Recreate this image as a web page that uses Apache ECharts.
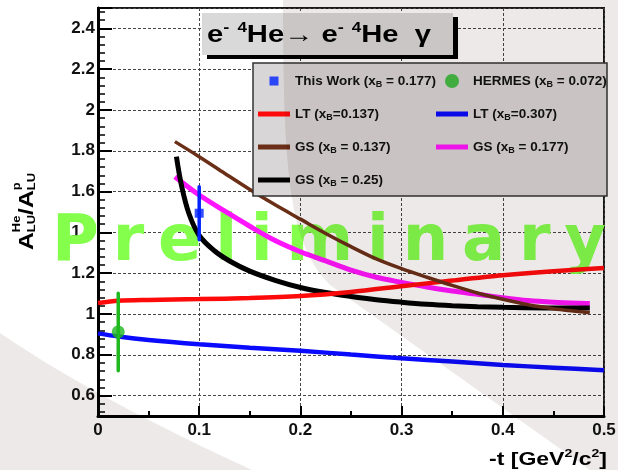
<!DOCTYPE html>
<html>
<head>
<meta charset="utf-8">
<script src="https://cdn.jsdelivr.net/npm/echarts@6/dist/echarts.min.js"></script>
<style>
  html, body { margin: 0; padding: 0; background: #ffffff; }
  #chart { width: 618px; height: 470px; }
</style>
</head>
<body>
<div id="chart"></div>
<script>
// ---- data -------------------------------------------------------------
// LT model curves, -t in GeV^2/c^2
const ltT = [0, 0.02, 0.05, 0.1, 0.15, 0.2, 0.25, 0.3, 0.35, 0.4, 0.45, 0.5];
const ltRatioXb137 = [1.054, 1.065, 1.069, 1.073, 1.078, 1.088, 1.108, 1.136, 1.164, 1.19, 1.21, 1.225];
const ltRatioXb307 = [0.905, 0.89, 0.873, 0.852, 0.835, 0.82, 0.801, 0.783, 0.767, 0.75, 0.737, 0.724];

// GS model curves
const gsT = [0.076, 0.1, 0.125, 0.15, 0.175, 0.2, 0.225, 0.25, 0.275, 0.3, 0.325, 0.35, 0.375, 0.4, 0.425, 0.45, 0.475, 0.486];
const gsRatioXb137 = [1.845, 1.771, 1.69, 1.61, 1.535, 1.465, 1.395, 1.33, 1.27, 1.222, 1.18, 1.14, 1.103, 1.072, 1.045, 1.026, 1.012, 1.006];
const gsRatioXb177 = [1.673, 1.583, 1.505, 1.43, 1.36, 1.305, 1.26, 1.215, 1.18, 1.155, 1.132, 1.113, 1.097, 1.08, 1.066, 1.058, 1.053, 1.052];
const gsT25 = [0.0775, 0.0825, 0.09, 0.1, 0.115, 0.13, 0.15, 0.175, 0.2, 0.225, 0.25, 0.275, 0.3, 0.325, 0.35, 0.375, 0.4, 0.45, 0.486];
const gsRatioXb25 = [1.771, 1.63, 1.49, 1.385, 1.31, 1.26, 1.21, 1.165, 1.13, 1.105, 1.086, 1.07, 1.058, 1.048, 1.041, 1.036, 1.033, 1.03, 1.03];

// measurements
const thisWorkT = [0.1];
const thisWorkRatio = [1.494];
const thisWorkErr = [0.13];
const hermesT = [0.02];
const hermesRatio = [0.912];
const hermesErr = [0.19];

// series names (x_B is typeset with a subscript B)
const nameThisWork = 'This Work (x_B = 0.177)';
const nameHermes = 'HERMES (x_B = 0.072)';
const nameLt137 = 'LT (x_B=0.137)';
const nameLt307 = 'LT (x_B=0.307)';
const nameGs137 = 'GS (x_B = 0.137)';
const nameGs177 = 'GS (x_B = 0.177)';
const nameGs25 = 'GS (x_B = 0.25)';

const watermark = 'Preliminary';

// ---- text helpers -----------------------------------------------------
const FONT = '"Liberation Sans", Arial, Helvetica, sans-serif';
const WM_FONT = '"DejaVu Sans", sans-serif';
const ctx2d = document.createElement('canvas').getContext('2d');
function fontStr(size, family) { return 'bold ' + size + 'px ' + (family || FONT); }
function measure(str, size, family) {
  ctx2d.font = fontStr(size, family);
  ctx2d.textBaseline = 'alphabetic';
  return ctx2d.measureText(str).width;
}
// distance from the 'middle' line of a text box down to its alphabetic baseline
function midShift(size, family) {
  ctx2d.font = fontStr(size, family);
  ctx2d.textBaseline = 'alphabetic';
  const a = ctx2d.measureText('H').actualBoundingBoxAscent;
  ctx2d.textBaseline = 'middle';
  const b = ctx2d.measureText('H').actualBoundingBoxAscent;
  return a - b;
}
function textEl(str, x, baseline, size, family, color, z) {
  return {
    type: 'text', x: x, y: baseline - midShift(size, family), z: z, silent: true,
    style: {
      text: str, font: fontStr(size, family), fill: color,
      align: 'left', verticalAlign: 'middle', textAlign: 'left', textVerticalAlign: 'middle'
    }
  };
}
// lays out a run of text pieces on a common baseline; stacked pieces share one advance
function textRun(parts, z) {
  let x = 0;
  const children = [];
  parts.forEach(function (p) {
    const pieces = p.stack || [p];
    let adv = 0;
    pieces.forEach(function (q) {
      children.push(textEl(q.t, x, q.dy || 0, q.s, FONT, '#000', z));
      adv = Math.max(adv, measure(q.t, q.s));
    });
    x += adv;
  });
  return { children: children, width: x };
}
function fittedRun(parts, left, baseline, targetWidth, z, rotation) {
  const run = textRun(parts, z);
  return {
    type: 'group', x: left, y: baseline, rotation: rotation || 0,
    scaleX: targetWidth / run.width, z: z, children: run.children
  };
}

// ---- decorations ------------------------------------------------------
function cubicPts(p0, p1, p2, p3, n) {
  const pts = [];
  for (let i = 0; i <= n; i++) {
    const t = i / n, u = 1 - t;
    pts.push([
      u * u * u * p0[0] + 3 * u * u * t * p1[0] + 3 * u * t * t * p2[0] + t * t * t * p3[0],
      u * u * u * p0[1] + 3 * u * u * t * p1[1] + 3 * u * t * t * p2[1] + t * t * t * p3[1]
    ]);
  }
  return pts;
}
function quadPts(p0, p1, p2, n) {
  const pts = [];
  for (let i = 0; i <= n; i++) {
    const t = i / n, u = 1 - t;
    pts.push([u * u * p0[0] + 2 * u * t * p1[0] + t * t * p2[0], u * u * p0[1] + 2 * u * t * p1[1] + t * t * p2[1]]);
  }
  return pts;
}
const shadeRight = cubicPts([283, 0], [283, 180], [290, 245], [330, 285], 24).concat([[590, 470], [618, 470], [618, 0]]);
const shadeLeft = quadPts([0, 333], [95, 398], [252, 470], 24).concat([[0, 470]]);

// watermark letters spread across the frame
function watermarkEls() {
  const size = 64, left = 52, right = 606, base = 260;
  const letters = watermark.split('');
  const advs = letters.map(function (c) { return measure(c, size, WM_FONT); });
  const sum = advs.reduce(function (a, b) { return a + b; }, 0);
  const gap = (right - left - sum) / (letters.length - 1);
  const els = [];
  let x = left;
  letters.forEach(function (c, i) {
    els.push(textEl(c, x, base, size, WM_FONT, '#84ff4c', 1));
    x += advs[i] + gap;
  });
  return els;
}

const titleParts = [
  { t: 'e', s: 24 }, { t: '-', s: 15, dy: -10 }, { t: ' ', s: 24 }, { t: '4', s: 14, dy: -10 },
  { t: 'He\u2192 e', s: 24 }, { t: '-', s: 15, dy: -10 }, { t: ' ', s: 24 }, { t: '4', s: 14, dy: -10 },
  { t: 'He  \u03b3', s: 24 }
];
const xNameParts = [
  { t: '-t [GeV', s: 18 }, { t: '2', s: 11, dy: -8 }, { t: '/c', s: 18 }, { t: '2', s: 11, dy: -8 }, { t: ']', s: 18 }
];
const yNameParts = [
  { t: 'A', s: 21 },
  { stack: [{ t: 'He', s: 11, dy: -13 }, { t: 'LU', s: 11, dy: 2 }] },
  { t: '/A', s: 21 },
  { stack: [{ t: 'p', s: 11, dy: -13 }, { t: 'LU', s: 11, dy: 2 }] }
];

// ---- legend -----------------------------------------------------------
function legendLabel(name) {
  const i = name.indexOf('x_B');
  return '{t|' + name.slice(0, i) + 'x}{s|B}{t|' + name.slice(i + 3) + '}';
}
const legendTextStyle = {
  fontFamily: FONT, fontWeight: 'bold', fontSize: 13.5, color: '#111',
  rich: {
    t: { fontFamily: FONT, fontWeight: 'bold', fontSize: 13.5, color: '#111' },
    s: { fontFamily: FONT, fontWeight: 'bold', fontSize: 9, color: '#111', padding: [7, 0, 0, 0] }
  }
};
// legend glyphs: a small filled square, and a plain thick bar for the model curves
const squareIcon = 'path://M0,0L0,0M2.5,2.5L11.5,2.5L11.5,11.5L2.5,11.5ZM14,14L14,14';
const barIcon = 'path://M0,0L0,0M0,4.5L32,4.5L32,9.5L0,9.5ZM32,14L32,14';
function legendColumn(left, data) {
  return {
    left: left, top: 69, orient: 'vertical', padding: 5,
    itemWidth: 32, itemHeight: 14, itemGap: 18,
    selectedMode: false, z: 6,
    formatter: legendLabel, textStyle: legendTextStyle,
    itemStyle: { borderWidth: 0 },
    data: data
  };
}

function errorBar(color) {
  return function (params, api) {
    const p1 = api.coord([api.value(0), api.value(1)]);
    const p2 = api.coord([api.value(0), api.value(2)]);
    return {
      type: 'line',
      shape: { x1: p1[0], y1: p1[1], x2: p2[0], y2: p2[1] },
      style: { stroke: color, lineWidth: 3.5, lineCap: 'round' }
    };
  };
}
function pairs(xs, ys) { return xs.map(function (x, i) { return [x, ys[i]]; }); }
function bars(xs, ys, es) { return xs.map(function (x, i) { return [x, ys[i] - es[i], ys[i] + es[i]]; }); }

const axisFont = { fontFamily: FONT, fontWeight: 'bold', fontSize: 17, color: '#111' };
const gridLine = { show: true, lineStyle: { color: '#454545', width: 1, type: [3, 2] } };

const option = {
  animation: false,
  backgroundColor: '#ffffff',
  grid: {
    left: 98, right: 14, top: 8, bottom: 54,
    show: true, borderColor: '#1a1a1a', borderWidth: 2, backgroundColor: 'transparent',
    containLabel: false, outerBoundsMode: 'none'
  },
  xAxis: {
    type: 'value', min: 0, max: 0.5, interval: 0.1,
    axisLine: { show: true, onZero: false, lineStyle: { color: '#000', width: 3 } },
    axisTick: { show: true, inside: true, length: 10, lineStyle: { color: '#000', width: 2 } },
    minorTick: { show: true, splitNumber: 2, length: 5, lineStyle: { color: '#000', width: 2 } },
    axisLabel: Object.assign({ margin: 6 }, axisFont),
    splitLine: gridLine,
    minorSplitLine: { show: false }
  },
  yAxis: {
    type: 'value', min: 0.5, max: 2.5, splitNumber: 10,
    axisLine: { show: true, onZero: false, lineStyle: { color: '#000', width: 3 } },
    axisTick: { show: true, inside: true, length: 14, lineStyle: { color: '#000', width: 2 } },
    minorTick: { show: true, splitNumber: 5, length: 7, lineStyle: { color: '#000', width: 1.5 } },
    axisLabel: Object.assign({ margin: 3, showMinLabel: false, showMaxLabel: false }, axisFont),
    splitLine: gridLine,
    minorSplitLine: { show: false }
  },
  legend: [
    legendColumn(253, [
      { name: nameThisWork, icon: squareIcon },
      { name: nameLt137, icon: barIcon },
      { name: nameGs137, icon: barIcon },
      { name: nameGs25, icon: barIcon }
    ]),
    legendColumn(431, [
      { name: nameHermes, icon: 'circle' },
      { name: nameLt307, icon: barIcon },
      { name: nameGs177, icon: barIcon }
    ])
  ],
  graphic: [].concat(
    watermarkEls(),
    [
      // title pave with its drop shadow
      { type: 'rect', z: 5, silent: true, shape: { x: 202, y: 13, width: 251, height: 42 }, style: { fill: '#d9d9d9' } },
      { type: 'rect', z: 5, silent: true, shape: { x: 207, y: 55, width: 251, height: 4 }, style: { fill: '#000' } },
      { type: 'rect', z: 5, silent: true, shape: { x: 453, y: 17, width: 5, height: 42 }, style: { fill: '#000' } },
      fittedRun(titleParts, 207, 42, 224, 7),
      // legend pave
      { type: 'rect', z: 5, silent: true, shape: { x: 253, y: 63, width: 354, height: 133 }, style: { fill: '#d8d6d6', stroke: '#333', lineWidth: 1.5 } },
      // axis titles
      fittedRun(xNameParts, 489, 465, 118, 7),
      fittedRun(yNameParts, 33, 250, 77, 7, Math.PI / 2),
      // slide backdrop tint
      { type: 'polygon', z: 20, silent: true, shape: { points: shadeRight }, style: { fill: '#eee9e9', blend: 'multiply' } },
      { type: 'polygon', z: 20, silent: true, shape: { points: shadeLeft }, style: { fill: '#eee9e9', blend: 'multiply' } }
    ]
  ),
  series: [
    { type: 'line', name: nameLt307, data: pairs(ltT, ltRatioXb307), symbol: 'none', smooth: 0.3, z: 3,
      lineStyle: { color: '#0a0aff', width: 4.5 }, itemStyle: { color: '#0a0aff' } },
    { type: 'line', name: nameGs177, data: pairs(gsT, gsRatioXb177), symbol: 'none', smooth: 0.3, z: 3,
      lineStyle: { color: '#ff14ff', width: 5 }, itemStyle: { color: '#ff14ff' } },
    { type: 'line', name: nameGs25, data: pairs(gsT25, gsRatioXb25), symbol: 'none', smooth: 0.35, z: 3,
      lineStyle: { color: '#000000', width: 5 }, itemStyle: { color: '#000000' } },
    { type: 'line', name: nameLt137, data: pairs(ltT, ltRatioXb137), symbol: 'none', smooth: 0.3, z: 3,
      lineStyle: { color: '#ff0a0a', width: 4.5 }, itemStyle: { color: '#ff0a0a' } },
    { type: 'line', name: nameGs137, data: pairs(gsT, gsRatioXb137), symbol: 'none', smooth: 0.3, z: 3,
      lineStyle: { color: '#6a2f16', width: 3.5 }, itemStyle: { color: '#6a2f16' } },
    { type: 'custom', name: 'HERMES error', data: bars(hermesT, hermesRatio, hermesErr),
      encode: { x: 0, y: [1, 2] }, renderItem: errorBar('#1fb81f'), z: 4 },
    { type: 'custom', name: 'This Work error', data: bars(thisWorkT, thisWorkRatio, thisWorkErr),
      encode: { x: 0, y: [1, 2] }, renderItem: errorBar('#0022ff'), z: 4 },
    { type: 'scatter', name: nameHermes, data: pairs(hermesT, hermesRatio), symbol: 'circle', symbolSize: 13, z: 4,
      itemStyle: { color: '#1fb81f' } },
    { type: 'scatter', name: nameThisWork, data: pairs(thisWorkT, thisWorkRatio), symbol: 'rect', symbolSize: 9, z: 4,
      itemStyle: { color: '#0022ff' } }
  ]
};

const chart = echarts.init(document.getElementById('chart'), null, { renderer: 'canvas' });
chart.setOption(option);
</script>
</body>
</html>
